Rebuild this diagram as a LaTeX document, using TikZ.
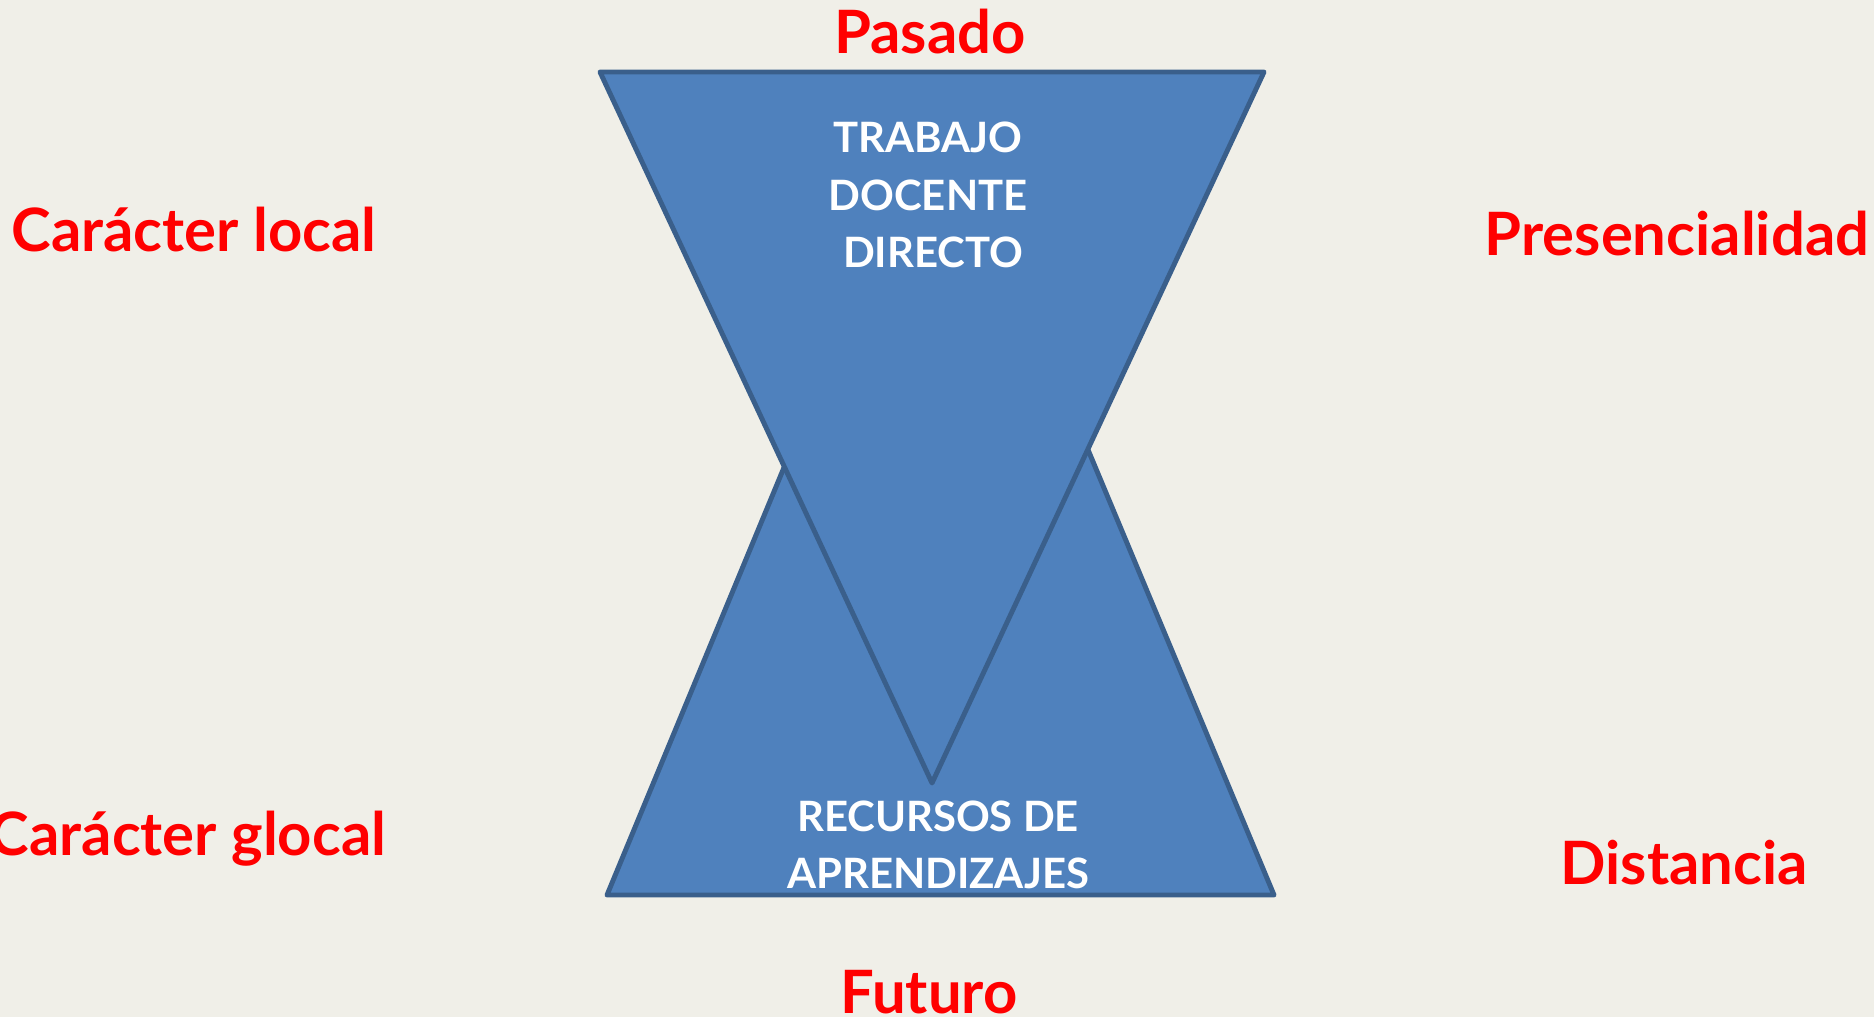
\documentclass[tikz,border=0pt]{standalone}
\usepackage{fontspec}
\setmainfont{Lato}
\usetikzlibrary{positioning}
\definecolor{fondo}{HTML}{F0EFE8}
\definecolor{relleno}{HTML}{4F81BD}
\definecolor{borde}{HTML}{3A5F8B}
\definecolor{rojo}{HTML}{FF0000}

\begin{document}
\begin{tikzpicture}[x=0.01cm,y=-0.01cm,
    eje/.style={text=rojo,font=\bfseries\fontsize{17}{20}\selectfont,anchor=base,inner sep=0pt},
    caja/.style={text=white,font=\bfseries\fontsize{11.9}{16.3}\selectfont,align=center,inner sep=0pt},
    tri/.style={fill=relleno,draw=borde,line width=1.4pt,line join=round}]
    \fill[fondo] (0,0) rectangle (1874,1017);
    \useasboundingbox (0,0) rectangle (1874,1017);

    % triangulo de abajo (recursos)
    \coordinate (abIzq) at (607,895);
    \coordinate (abDer) at (1274,895);
    \coordinate (abPunta) at (939,93);
    \draw[tri] (abIzq) -- (abDer) -- (abPunta) -- cycle;

    % triangulo de arriba (docente)
    \coordinate (arIzq) at (600,72);
    \coordinate (arDer) at (1264,72);
    \coordinate (arPunta) at (932,783);
    \draw[tri] (arIzq) -- (arDer) -- (arPunta) -- cycle;

    \node[caja] (docente) at (928,195) {TRABAJO\\DOCENTE\\\ DIRECTO};
    \node[caja] (recursos) at (938,845) {RECURSOS DE\\APRENDIZAJES};

    \node[eje] (pasado) at (930,53) {Pasado};
    \node[eje] (futuro) at (929,1013) {Futuro};
    \node[eje] (local) at (194,251) {Carácter local};
    \node[eje] (glocal) at (188,855) {Carácter glocal};
    \node[eje] (presencia) at (1677,255) {Presencialidad};
    \node[eje] (distancia) at (1684,884) {Distancia};
\end{tikzpicture}
\end{document}
